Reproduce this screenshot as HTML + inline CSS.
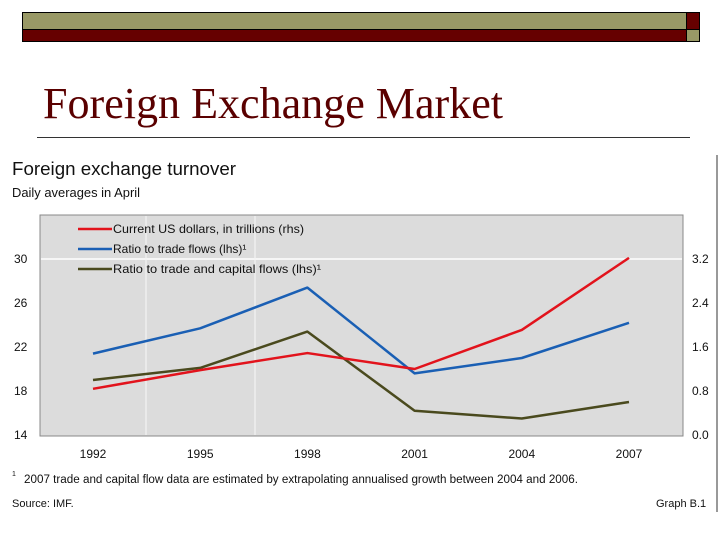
<!DOCTYPE html>
<html><head><meta charset="utf-8"><style>
body{margin:0;width:720px;height:540px;background:#fff;position:relative;overflow:hidden;font-family:"Liberation Sans",sans-serif}
.a{position:absolute}
</style></head><body>
<div class="a" style="left:22px;top:12px;width:665px;height:18px;background:#999966;border:1px solid #000;box-sizing:border-box"></div>
<div class="a" style="left:22px;top:29px;width:665px;height:13px;background:#660000;border:1px solid #000;box-sizing:border-box"></div>
<div class="a" style="left:686px;top:12px;width:14px;height:18px;background:#660000;border:1px solid #000;box-sizing:border-box"></div>
<div class="a" style="left:686px;top:29px;width:14px;height:13px;background:#999966;border:1px solid #000;box-sizing:border-box"></div>
<svg class="a" style="left:0;top:0" width="720" height="140">
<text x="43" y="118" font-family="Liberation Serif, serif" font-size="44" fill="#5a0000" textLength="460" lengthAdjust="spacingAndGlyphs">Foreign Exchange Market</text>
</svg>
<div class="a" style="left:37px;top:137px;width:653px;height:1px;background:#333"></div>
<div class="a" style="left:716px;top:155px;width:2px;height:357px;background:#999"></div>
<svg class="a" style="left:0;top:0" width="720" height="540">
<text x="12" y="175" font-size="18" fill="#111" textLength="224" lengthAdjust="spacingAndGlyphs">Foreign exchange turnover</text>
<text x="12" y="197" font-size="12.5" fill="#111" textLength="128" lengthAdjust="spacingAndGlyphs">Daily averages in April</text>
<rect x="40" y="215" width="643" height="221" fill="#dcdcdc" stroke="#888"/>
<g id="grid"></g><g id="axes"></g><g id="series"></g>
<g font-size="12" fill="#111">
<line x1="78" y1="229" x2="112" y2="229" stroke="#e2131c" stroke-width="2.5"/><text x="113" y="233" textLength="191" lengthAdjust="spacingAndGlyphs">Current US dollars, in trillions (rhs)</text>
<line x1="78" y1="249" x2="112" y2="249" stroke="#1a5fb4" stroke-width="2.5"/><text x="113" y="253">Ratio to trade flows (lhs)¹</text>
<line x1="78" y1="269" x2="112" y2="269" stroke="#4a4a1e" stroke-width="2.5"/><text x="113" y="273" textLength="208" lengthAdjust="spacingAndGlyphs">Ratio to trade and capital flows (lhs)¹</text>
</g>
<text x="12" y="476" font-size="7" fill="#111">1</text>
<text x="24" y="483" font-size="11.5" fill="#111" textLength="554" lengthAdjust="spacingAndGlyphs">2007 trade and capital flow data are estimated by extrapolating annualised growth between 2004 and 2006.</text>
<text x="12" y="507" font-size="11" fill="#111">Source: IMF.</text>
<text x="656" y="507" font-size="11" fill="#111">Graph B.1</text>
</svg>
<script>
const years=["1992","1995","1998","2001","2004","2007"];
const usd=[0.84,1.18,1.49,1.20,1.91,3.22];
const tradeRatio=[21.4,23.7,27.4,19.6,21.0,24.2];
const tradeCapRatio=[19.0,20.1,23.4,16.2,15.5,17.0];
const leftTicks=[14,18,22,26,30];
const rightTicks=["0.0","0.8","1.6","2.4","3.2"];
const NS="http://www.w3.org/2000/svg";
const x=i=>93+i*107.2;
const yl=v=>435-(v-14)*11;
const yr=v=>435-v*55;
function mk(t,a,p){const e=document.createElementNS(NS,t);for(const k in a)e.setAttribute(k,a[k]);p.appendChild(e);return e;}
const grid=document.getElementById('grid'),axes=document.getElementById('axes'),ser=document.getElementById('series');
const gl=mk('line',{x1:41,x2:682,y1:yl(30),y2:yl(30),stroke:'#fff','stroke-width':1.5},grid);


[146,255].forEach(px=>{const v=mk('line',{x1:px,x2:px,y1:216,y2:435,stroke:'#f2f2f2','stroke-width':1.2},grid);

});
leftTicks.forEach((t,i)=>{const e=mk('text',{x:14,y:yl(t)+4,'font-size':12,fill:'#111'},axes);e.textContent=t;


const r=mk('text',{x:692,y:yr(Number(rightTicks[i]))+4,'font-size':12,fill:'#111'},axes);r.textContent=rightTicks[i];

});
years.forEach((yv,i)=>{const e=mk('text',{x:x(i),y:458,'font-size':12,fill:'#111','text-anchor':'middle'},axes);e.textContent=yv;

});
function line(d,f,c,n){const p=mk('polyline',{points:d.map((v,i)=>x(i)+','+f(v)).join(' '),fill:'none',stroke:c,'stroke-width':2.5,'stroke-linejoin':'round'},ser);

}
line(tradeCapRatio,yl,'#4a4a1e','series-trade-capital-ratio');
line(tradeRatio,yl,'#1a5fb4','series-trade-ratio');
line(usd,yr,'#e2131c','series-usd-trillions');
</script>
</body></html>
